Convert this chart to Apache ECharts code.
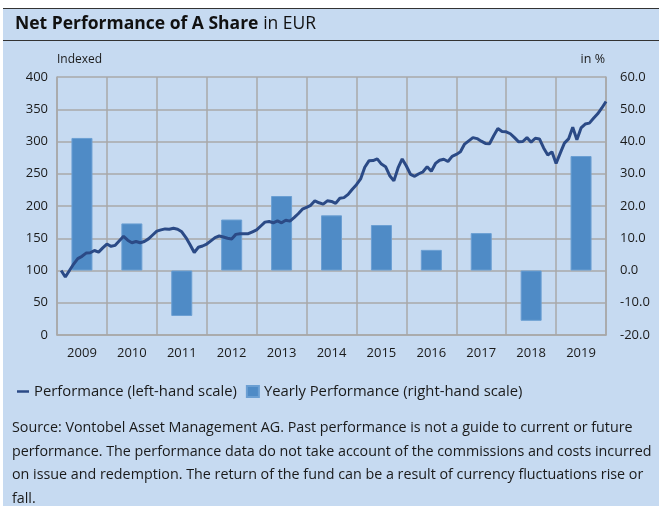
<!DOCTYPE html>
<html>
<head>
<meta charset="utf-8">
<script src="https://cdn.jsdelivr.net/npm/echarts@6/dist/echarts.min.js"></script>
<style>
  html, body { margin: 0; padding: 0; background: #ffffff; }
  #main { width: 659px; height: 506px; }
</style>
</head>
<body>
<div id="main"></div>
<script>
// year categories on the bottom axis
var years = ['2009', '2010', '2011', '2012', '2013', '2014', '2015', '2016', '2017', '2018', '2019'];
// yearly performance in % (right-hand scale)
var yearly = [41.1, 14.6, -14.1, 15.8, 23.1, 17.1, 14.1, 6.4, 11.6, -15.6, 35.5];
// monthly indexed performance (left-hand scale), month 1 = end of Jan 2009
var indexed = [
  100, 90, 100, 110, 118.5, 122, 127, 127.5, 131, 128.5, 135, 141,
  137.5, 139, 146, 153, 147, 143, 145, 143, 145, 149, 155, 161,
  163, 164.5, 164, 165.5, 164, 160, 151, 140, 128, 136, 138, 141,
  146, 151, 153.5, 152, 150, 149, 156, 157, 157, 157, 160, 163,
  169, 175, 176, 174, 177, 174, 178, 176.5, 182, 188, 195, 198,
  201, 208, 205, 203, 208, 207, 204, 212, 213, 218, 226, 233,
  242, 260, 270, 270.5, 273, 265, 261, 247, 239, 259, 273, 262,
  249, 246, 250, 253, 261, 254, 266, 271, 272.5, 269, 277, 280,
  284, 296, 301, 306, 304.5, 300.5, 297, 296.5, 309, 320, 315.5, 315,
  312, 306, 299.5, 300, 306, 299, 305, 304, 290, 279, 284, 266,
  282, 297.5, 304, 322, 302.6, 321, 327, 328.5, 336, 343, 352, 362
];
var leftTicks = { min: 0, max: 400, step: 50 };
var rightTicks = { min: -20, max: 60, step: 10 };

var sourceLines = [
  'Source: Vontobel Asset Management AG. Past performance is not a guide to current or future',
  'performance. The performance data do not take account of the commissions and costs incurred',
  'on issue and redemption. The return of the fund can be a result of currency fluctuations rise or',
  'fall.'
];

var font = '"Open Sans", "Noto Sans", sans-serif';
var textColor = '#1a1a1a';
var gridColor = '#a8a8a8';

var chart = echarts.init(document.getElementById('main'));

var linePoints = indexed.map(function (v, i) { return [i + 1, v]; });

var option = {
  backgroundColor: 'transparent',
  animation: false,
  textStyle: { fontFamily: font, color: textColor },
  title: {
    left: 10, top: 10,
    text: '{b|Net Performance of A Share} {n|in EUR}',
    textStyle: {
      rich: {
        b: { fontFamily: font, fontSize: 17.5, fontWeight: 'bold', color: '#111' },
        n: { fontFamily: font, fontSize: 17.5, fontWeight: 'normal', color: '#111' }
      }
    }
  },
  grid: { left: 57, right: 53, top: 77, height: 258, show: false },
  legend: {
    left: 12, top: 379,
    itemWidth: 12, itemHeight: 11, itemGap: 9,
    textStyle: { fontFamily: font, fontSize: 14.8, color: textColor },
    data: [
      { name: 'Performance (left-hand scale)', icon: 'path://M0,0 L12,0 L12,2.5 L0,2.5 Z', itemStyle: { color: '#2b4a86' } },
      { name: 'Yearly Performance (right-hand scale)', icon: 'rect' }
    ]
  },
  xAxis: [
    {
      type: 'category', data: years, boundaryGap: true,
      axisLine: { show: true, lineStyle: { color: gridColor, width: 1.5 } },
      axisTick: { show: false },
      axisLabel: { fontFamily: font, fontSize: 13, color: textColor, margin: 12 },
      splitLine: { show: true, lineStyle: { color: gridColor, width: 1.5 } }
    },
    { type: 'value', min: 0, max: 132, show: false }
  ],
  yAxis: [
    {
      type: 'value', position: 'left',
      min: leftTicks.min, max: leftTicks.max, interval: leftTicks.step,
      name: 'Indexed', nameGap: 11,
      nameTextStyle: { fontFamily: font, fontSize: 12, color: textColor, align: 'left', padding: [0, 0, 0, 0] },
      axisLine: { show: true, lineStyle: { color: gridColor, width: 1.5 } },
      axisTick: { show: false },
      axisLabel: { fontFamily: font, fontSize: 13, color: textColor, margin: 9 },
      splitLine: { show: true, lineStyle: { color: gridColor, width: 1.5 } }
    },
    {
      type: 'value', position: 'right',
      min: rightTicks.min, max: rightTicks.max, interval: rightTicks.step,
      name: 'in %', nameGap: 11,
      nameTextStyle: { fontFamily: font, fontSize: 12.5, color: textColor, align: 'right', padding: [0, 1, 0, 0] },
      axisLine: { show: true, lineStyle: { color: gridColor, width: 1.5 } },
      axisTick: { show: false },
      axisLabel: {
        fontFamily: font, fontSize: 13, color: textColor, margin: 14,
        formatter: function (v) { return v.toFixed(1); }
      },
      splitLine: { show: false }
    }
  ],
  series: [
    {
      name: 'Yearly Performance (right-hand scale)',
      type: 'bar', xAxisIndex: 0, yAxisIndex: 1,
      data: yearly, barWidth: 21,
      itemStyle: { color: '#4f8bc6', borderColor: '#6b9fd3', borderWidth: 1 }
    },
    {
      name: 'Performance (left-hand scale)',
      type: 'line', xAxisIndex: 1, yAxisIndex: 0,
      data: linePoints, symbol: 'none',
      lineStyle: { color: '#2b4a86', width: 3 },
      itemStyle: { color: '#2b4a86' }
    }
  ],
  graphic: [
    { type: 'rect', z: -10, silent: true, shape: { x: 3, y: 8, width: 656, height: 498 }, style: { fill: '#c6daf1' } },
    { type: 'line', silent: true, shape: { x1: 3, y1: 8.5, x2: 659, y2: 8.5 }, style: { stroke: '#333', lineWidth: 1.2 } },
    { type: 'line', silent: true, shape: { x1: 3, y1: 40.5, x2: 659, y2: 40.5 }, style: { stroke: '#333', lineWidth: 1.2 } },
    {
      type: 'text', left: 12, top: 416, silent: true,
      style: {
        text: sourceLines.join('\n'),
        fontFamily: font, fontSize: 14.3, lineHeight: 23.7, fill: textColor
      }
    }
  ]
};

chart.setOption(option);
</script>
</body>
</html>
